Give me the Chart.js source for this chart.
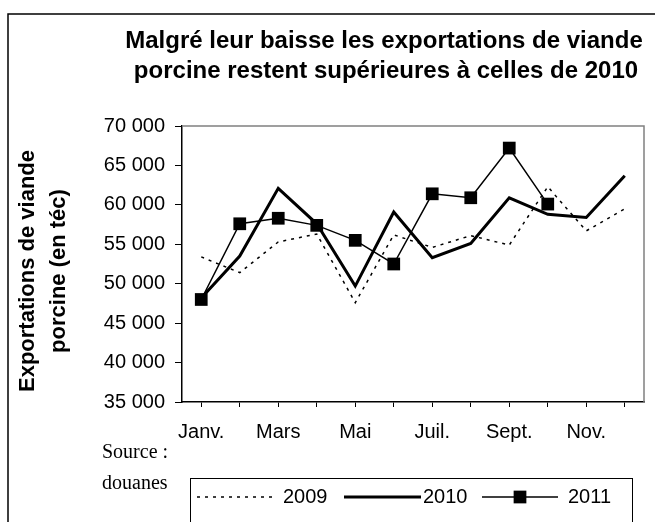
<!DOCTYPE html>
<html>
<head>
<meta charset="utf-8">
<script src="https://cdn.jsdelivr.net/npm/chart.js@4"></script>
<style>
    body { margin: 0; background: #fff; }
    #cadre { width: 655px; height: 522px; }
</style>
</head>
<body>
<div id="cadre"><canvas id="graphique" width="655" height="522"></canvas></div>
<script>
// =====================
// DONNÉES
// =====================
const MOIS = ["Janv.", "Févr.", "Mars", "Avr.", "Mai", "Juin", "Juil.", "Août", "Sept.", "Oct.", "Nov.", "Déc."];
const EXPORT_2009 = [53400, 51400, 55300, 56300, 47600, 56200, 54600, 56100, 54900, 62300, 56700, 59500];
const EXPORT_2010 = [48200, 53500, 62100, 57600, 49700, 59100, 53300, 55100, 60900, 58800, 58400, 63700];
const EXPORT_2011 = [48000, 57600, 58300, 57400, 55500, 52500, 61400, 60900, 67200, 60100];
const TICKS_Y = [35000, 40000, 45000, 50000, 55000, 60000, 65000, 70000];

const TITRE = ["Malgré leur baisse les exportations de viande", "porcine restent supérieures à celles de 2010"];
const TITRE_Y = ["Exportations de viande", "porcine (en téc)"];
const SOURCE = ["Source :", "douanes"];

const POLICE = "'Liberation Sans', Arial, sans-serif";

function milliers(v) {
    return String(v).replace(/\B(?=(\d{3})+(?!\d))/g, " ");
}

// =====================
// DÉCOR (titres, cadre, légende)
// =====================
const decor = {
    id: "decor",
    beforeDraw(chart) {
        const ctx = chart.ctx;
        ctx.save();
        ctx.fillStyle = "#fff";
        ctx.fillRect(0, 0, chart.width, chart.height);
        ctx.restore();
    },
    beforeDatasetsDraw(chart) {
        const ctx = chart.ctx, a = chart.chartArea;
        ctx.save();
        ctx.strokeStyle = "#808080";
        ctx.lineWidth = 1.5;
        ctx.beginPath();
        ctx.moveTo(a.left, a.top);
        ctx.lineTo(a.right, a.top);
        ctx.lineTo(a.right, a.bottom);
        ctx.stroke();
        ctx.restore();
    },
    afterDraw(chart) {
        const ctx = chart.ctx;
        const ds = chart.data.datasets;
        ctx.save();

        // cadre extérieur
        ctx.strokeStyle = "#000";
        ctx.lineWidth = 1.5;
        ctx.strokeRect(8, 14, 700, 600);

        // titre
        ctx.fillStyle = "#000";
        ctx.font = "bold 24px " + POLICE;
        ctx.textAlign = "center";
        ctx.textBaseline = "alphabetic";
        ctx.fillText(TITRE[0], 384, 48);
        ctx.fillText(TITRE[1], 386, 78);

        // titre de l'axe Y
        ctx.save();
        ctx.translate(0, 271);
        ctx.rotate(-Math.PI / 2);
        ctx.font = "bold 22px " + POLICE;
        ctx.textBaseline = "middle";
        ctx.fillText(TITRE_Y[0], 0, 28);
        ctx.fillText(TITRE_Y[1], 0, 59);
        ctx.restore();

        // source
        ctx.font = "20px 'Liberation Serif', 'Times New Roman', serif";
        ctx.textAlign = "left";
        ctx.fillText(SOURCE[0], 102, 458);
        ctx.fillText(SOURCE[1], 102, 489);

        // légende
        ctx.strokeStyle = "#000";
        ctx.lineWidth = 1;
        ctx.strokeRect(190.5, 478.5, 442, 60);
        const yL = 497;
        const items = [
            { x0: 197, x1: 273, tx: 283, d: ds[0] },
            { x0: 344, x1: 421, tx: 423, d: ds[1] },
            { x0: 482, x1: 558, tx: 568, d: ds[2] }
        ];
        ctx.font = "20px " + POLICE;
        ctx.textBaseline = "middle";
        items.forEach(it => {
            ctx.save();
            ctx.strokeStyle = it.d.borderColor;
            ctx.lineWidth = it.d.borderWidth;
            ctx.setLineDash(it.d.borderDash || []);
            ctx.beginPath();
            ctx.moveTo(it.x0, yL);
            ctx.lineTo(it.x1, yL);
            ctx.stroke();
            ctx.restore();
            if (it.d.pointRadius > 0) {
                const c = Math.SQRT1_2 * it.d.pointRadius;
                ctx.fillStyle = it.d.pointBackgroundColor;
                ctx.fillRect((it.x0 + it.x1) / 2 - c, yL - c, 2 * c, 2 * c);
            }
            ctx.fillStyle = "#000";
            ctx.fillText(it.d.label, it.tx, yL);
        });

        ctx.restore();
    }
};

// =====================
// GRAPHIQUE
// =====================
new Chart(document.getElementById("graphique"), {
    type: "line",
    data: {
        labels: MOIS,
        datasets: [
            {
                label: "2009",
                data: EXPORT_2009,
                borderColor: "#000",
                borderWidth: 1.5,
                borderDash: [3, 5],
                pointRadius: 0,
                tension: 0
            },
            {
                label: "2010",
                data: EXPORT_2010,
                borderColor: "#000",
                borderWidth: 3,
                pointRadius: 0,
                tension: 0
            },
            {
                label: "2011",
                data: EXPORT_2011,
                borderColor: "#000",
                borderWidth: 1.5,
                pointStyle: "rect",
                pointRadius: 9,
                pointBackgroundColor: "#000",
                pointBorderWidth: 0,
                tension: 0
            }
        ]
    },
    options: {
        responsive: false,
        animation: false,
        layout: { padding: { top: 126, right: 11, bottom: 0, left: 0 } },
        plugins: {
            legend: { display: false },
            title: { display: false },
            tooltip: { enabled: false }
        },
        scales: {
            x: {
                type: "category",
                offset: true,
                afterFit: s => { s.height = 120; },
                border: { color: "#000", width: 1.5 },
                grid: { drawOnChartArea: false, drawTicks: true, tickLength: 5, color: "#000", lineWidth: 1 },
                ticks: {
                    autoSkip: false,
                    maxRotation: 0,
                    padding: 13,
                    color: "#000",
                    font: { family: POLICE, size: 20 },
                    callback: (v, i) => i % 2 === 0 ? MOIS[i] : ""
                }
            },
            y: {
                min: TICKS_Y[0],
                max: TICKS_Y[TICKS_Y.length - 1],
                afterFit: s => { s.width = 182; },
                afterBuildTicks: s => { s.ticks = TICKS_Y.map(v => ({ value: v })); },
                border: { color: "#000", width: 1.5 },
                grid: { drawOnChartArea: false, drawTicks: true, tickLength: 7, color: "#000", lineWidth: 1 },
                ticks: {
                    padding: 10,
                    color: "#000",
                    font: { family: POLICE, size: 20 },
                    callback: v => milliers(v)
                }
            }
        }
    },
    plugins: [decor]
});
</script>
</body>
</html>
